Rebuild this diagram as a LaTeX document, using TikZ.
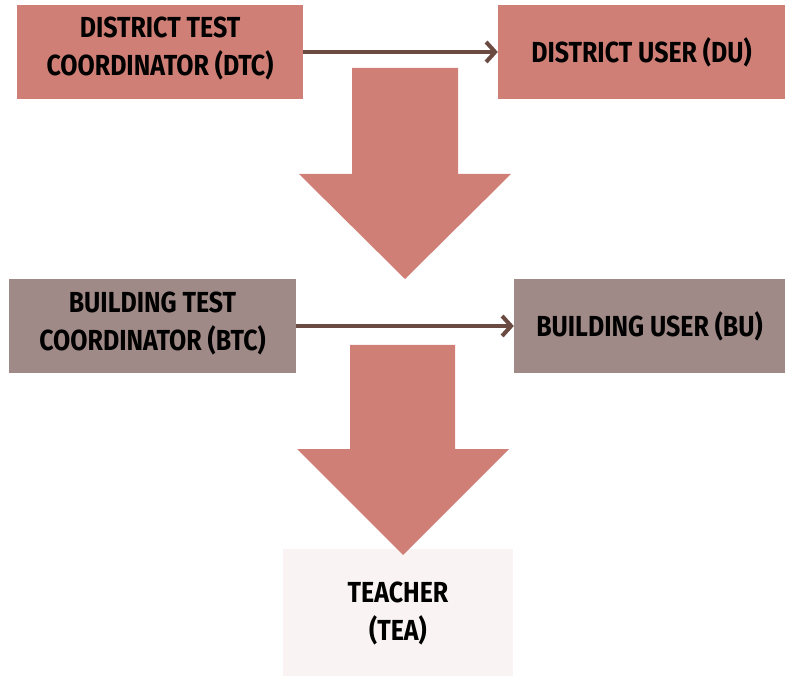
\documentclass[tikz,border=0pt]{standalone}
\usepackage{fontspec}
\setsansfont[FakeStretch=0.86]{Fira Sans}
\usepackage{xcolor}
\usetikzlibrary{
    calc,
    arrows.meta
}
\definecolor{rosebox}{HTML}{CF7F75}
\definecolor{greybox}{HTML}{A08A87}
\definecolor{palebox}{HTML}{F9F4F3}
\definecolor{linkline}{HTML}{6B4A42}

\begin{document}
\begin{tikzpicture}[
            x=1pt, y=-1pt,
            role/.style={fill=#1, draw=none, inner sep=0pt, align=center,
                font=\sffamily\bfseries\fontsize{29}{38}\selectfont},
            link/.style={draw=linkline, line width=4pt,
                -{Straight Barb[length=9pt, width=20pt, line width=4pt]}},
            flow/.style={fill=rosebox, draw=none}
        ]
        \useasboundingbox (0,0) rectangle (785,676);

        \node[role=rosebox, minimum width=286pt, minimum height=94pt] (dtc) at (160,52) {};
        \node at (160,49) [role=none] {DISTRICT TEST\\COORDINATOR (DTC)};
        \node[role=rosebox, minimum width=287pt, minimum height=94pt] (du) at (641.5,52) {DISTRICT USER (DU)};

        \node[role=greybox, minimum width=287pt, minimum height=94pt] (btc) at (152.5,326) {};
        \node at (152.5,324) [role=none] {BUILDING TEST\\COORDINATOR (BTC)};
        \node[role=greybox, minimum width=271pt, minimum height=94pt] (bu) at (649.5,326) {BUILDING USER (BU)};

        \node[role=palebox, minimum width=230pt, minimum height=127pt] (tea) at (398,612.5) {};
        \node at (398,614) [role=none] {TEACHER\\(TEA)};

        \draw[link] (dtc.east) -- (du.west);
        \draw[link] (btc.east) -- (bu.west);

        % block arrows
        \fill[flow] (352,68) -- (458,68) -- (458,174) -- (511,174) -- (405,279)
            -- (299,174) -- (352,174) -- cycle;
        \fill[flow] (350,345) -- (455,345) -- (455,449) -- (509,449) -- (403,555)
            -- (297,449) -- (350,449) -- cycle;
    \end{tikzpicture}
\end{document}
